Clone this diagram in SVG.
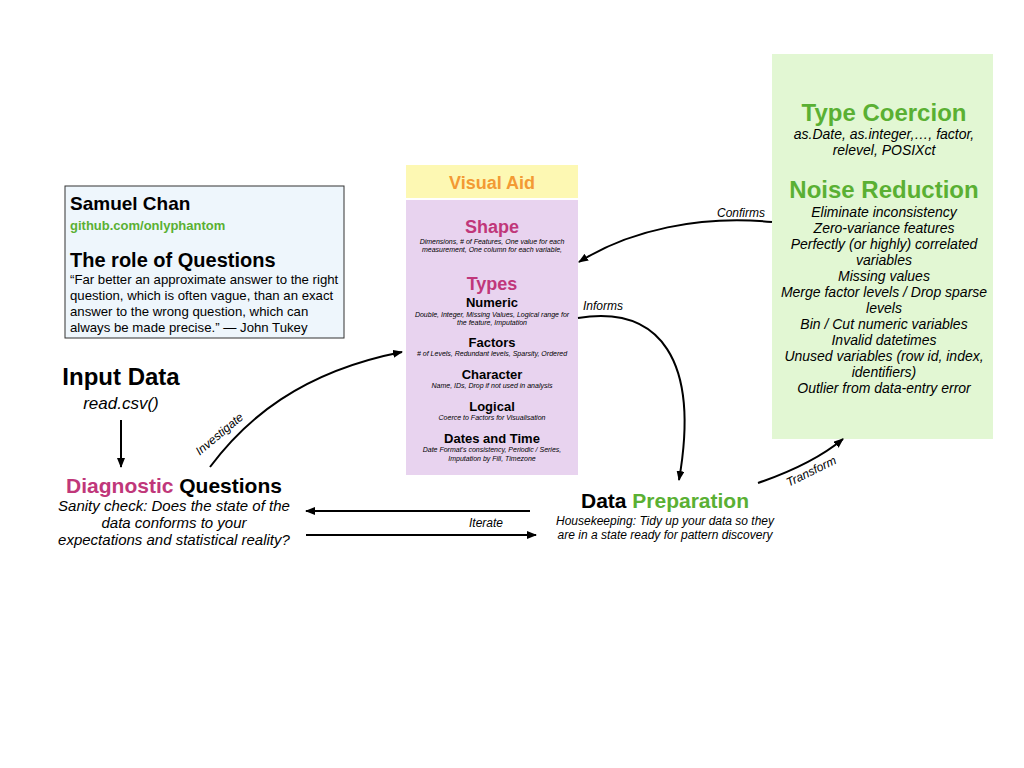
<svg xmlns="http://www.w3.org/2000/svg" width="1024" height="768" viewBox="0 0 1024 768">
<defs>
<marker id="ah" markerWidth="10" markerHeight="8" refX="9" refY="4" orient="auto" markerUnits="userSpaceOnUse">
<path d="M0,0 L10,4 L0,8 z" fill="#000"/>
</marker>
<style>
text{font-family:"Liberation Sans",Arial,sans-serif;fill:#000}
.b{font-weight:bold}
.i{font-style:italic}
.c{text-anchor:middle}
.mag{fill:#c0377a}
.grn{fill:#5ab033}
.tiny{font-size:7px;font-style:italic;text-anchor:middle}
.sub{font-size:13px;font-weight:bold;text-anchor:middle}
.nr{font-size:14px;font-style:italic;text-anchor:middle}
.conn{fill:none;stroke:#000;stroke-width:2}
</style>
</defs>
<rect width="1024" height="768" fill="#fff"/>

<g id="author">
<rect x="65" y="186" width="279" height="152" fill="#eef6fc" stroke="#333" stroke-width="1"/>
<text x="70" y="210" class="b" font-size="19">Samuel Chan</text>
<text x="70" y="230" class="b grn" font-size="13">github.com/onlyphantom</text>
<text x="70" y="267" class="b" font-size="20">The role of Questions</text>
<text x="70" y="284" font-size="13.2">“Far better an approximate answer to the right</text>
<text x="70" y="300" font-size="13.2">question, which is often vague, than an exact</text>
<text x="70" y="316" font-size="13.2">answer to the wrong question, which can</text>
<text x="70" y="332" font-size="13.2">always be made precise.” — John Tukey</text>
</g>

<g id="visual-aid">
<rect x="406" y="165" width="172" height="33" fill="#fdf8b3"/>
<text x="492" y="189" class="b c" font-size="18" style="fill:#f39a34">Visual Aid</text>
<rect x="406" y="200" width="172" height="275" fill="#e8d3ef"/>
<text x="492" y="233" class="b c mag" font-size="18">Shape</text>
<text x="492" y="244" class="tiny">Dimensions, # of Features, One value for each</text>
<text x="492" y="252" class="tiny">measurement, One column for each variable,</text>
<text x="492" y="290" class="b c mag" font-size="18">Types</text>
<text x="492" y="307" class="sub">Numeric</text>
<text x="492" y="317" class="tiny">Double, Integer, Missing Values, Logical range for</text>
<text x="492" y="325" class="tiny">the feature, Imputation</text>
<text x="492" y="347" class="sub">Factors</text>
<text x="492" y="356" class="tiny"># of Levels, Redundant levels, Sparsity, Ordered</text>
<text x="492" y="379" class="sub">Character</text>
<text x="492" y="388" class="tiny">Name, IDs, Drop if not used in analysis</text>
<text x="492" y="411" class="sub">Logical</text>
<text x="492" y="420" class="tiny">Coerce to Factors for Visualisation</text>
<text x="492" y="443" class="sub">Dates and Time</text>
<text x="492" y="452" class="tiny">Date Format's consistency, Periodic / Series,</text>
<text x="492" y="461" class="tiny">Imputation by Fill, Timezone</text>
</g>

<g id="transform-box">
<rect x="772" y="54" width="221" height="385" fill="#e2f7d3"/>
<text x="884" y="121" class="b c grn" font-size="24">Type Coercion</text>
<text x="884" y="139" class="nr">as.Date, as.integer,…, factor,</text>
<text x="884" y="155" class="nr">relevel, POSIXct</text>
<text x="884" y="198" class="b c grn" font-size="24">Noise Reduction</text>
<text x="884" y="217" class="nr">Eliminate inconsistency</text>
<text x="884" y="233" class="nr">Zero-variance features</text>
<text x="884" y="249" class="nr">Perfectly (or highly) correlated</text>
<text x="884" y="265" class="nr">variables</text>
<text x="884" y="281" class="nr">Missing values</text>
<text x="884" y="297" class="nr">Merge factor levels / Drop sparse</text>
<text x="884" y="313" class="nr">levels</text>
<text x="884" y="329" class="nr">Bin / Cut numeric variables</text>
<text x="884" y="345" class="nr">Invalid datetimes</text>
<text x="884" y="361" class="nr">Unused variables (row id, index,</text>
<text x="884" y="377" class="nr">identifiers)</text>
<text x="884" y="393" class="nr">Outlier from data-entry error</text>
</g>

<g id="input-data">
<text x="121" y="385" class="b c" font-size="24">Input Data</text>
<text x="121" y="409" class="i c" font-size="17">read.csv()</text>
</g>

<g id="diagnostic">
<text x="174" y="493" class="b c" font-size="21"><tspan class="mag">Diagnostic</tspan> Questions</text>
<text x="174" y="511" class="i c" font-size="15">Sanity check: Does the state of the</text>
<text x="174" y="528" class="i c" font-size="15">data conforms to your</text>
<text x="174" y="545" class="i c" font-size="15">expectations and statistical reality?</text>
</g>

<g id="data-prep">
<text x="665" y="508" class="b c" font-size="21">Data <tspan class="grn">Preparation</tspan></text>
<text x="665" y="525" class="i c" font-size="12">Housekeeping: Tidy up your data so they</text>
<text x="665" y="539" class="i c" font-size="12">are in a state ready for pattern discovery</text>
</g>

<g id="connectors">
<path class="conn" d="M121,420 L121,467" marker-end="url(#ah)"/>
<path class="conn" d="M210,467 C245,420 300,372 402,352" marker-end="url(#ah)"/>
<path class="conn" d="M578,318 C660,305 700,360 679,480" marker-end="url(#ah)"/>
<path class="conn" d="M772,222 C700,215 630,230 579,262" marker-end="url(#ah)"/>
<path class="conn" d="M758,483 C790,472 820,458 843,439" marker-end="url(#ah)"/>
<path class="conn" d="M530,511 L306,511" marker-end="url(#ah)"/>
<path class="conn" d="M306,535 L536,535" marker-end="url(#ah)"/>
<text x="222" y="437" class="i c" font-size="12" transform="rotate(-40 222 437)">Investigate</text>
<text x="583" y="310" class="i" font-size="12">Informs</text>
<text x="717" y="217" class="i" font-size="12">Confirms</text>
<text x="813" y="475" class="i c" font-size="12" transform="rotate(-26 813 475)">Transform</text>
<text x="486" y="527" class="i c" font-size="12">Iterate</text>
</g>
</svg>
